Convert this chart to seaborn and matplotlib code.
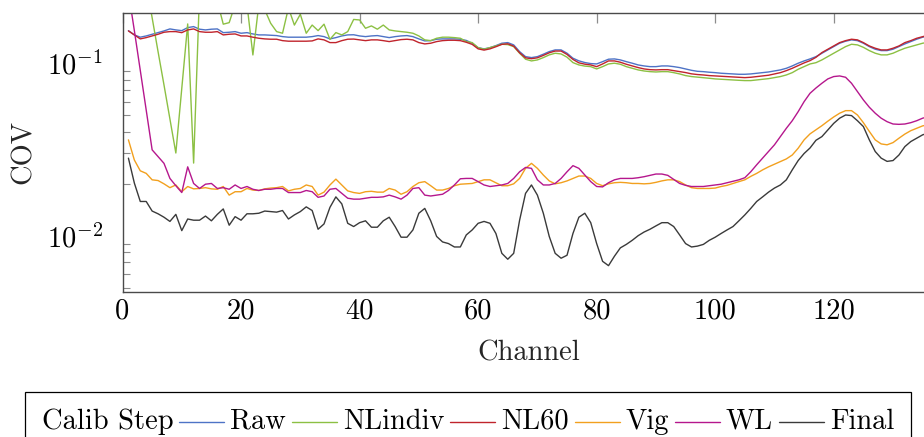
import numpy as np
import pandas as pd
import matplotlib
matplotlib.use("Agg")
import matplotlib.pyplot as plt
import seaborn as sns
from matplotlib.ticker import FixedLocator, FuncFormatter, LogLocator, NullFormatter
from matplotlib.lines import Line2D
from matplotlib.offsetbox import TextArea, DrawingArea, HPacker, AnchoredOffsetbox

# ---------------- data ----------------
channels = list(range(1, 137))

raw = [0.155, 0.1464, 0.142, 0.1444, 0.1477, 0.1509, 0.1544, 0.1586, 0.1565, 0.155,
       0.1614, 0.1636, 0.158, 0.1565, 0.158, 0.1586, 0.1509, 0.1517, 0.153,
       0.1497, 0.1509, 0.1483, 0.1464, 0.1464, 0.1458, 0.1451, 0.1431, 0.142, 0.142,
       0.142, 0.142, 0.1431, 0.1451, 0.1431, 0.1388, 0.1412, 0.1444, 0.1464, 0.1467,
       0.1444, 0.1431, 0.1444, 0.1451, 0.1431, 0.1412, 0.1431, 0.1444, 0.1451, 0.1431,
       0.1388, 0.1351, 0.1356, 0.1382, 0.1388, 0.1388, 0.1388, 0.1382, 0.136,
       0.131, 0.1235, 0.1214, 0.1235, 0.1269, 0.131, 0.1321, 0.1281, 0.1171, 0.1095,
       0.1081, 0.1095, 0.1131, 0.1171, 0.1198, 0.1198, 0.1146, 0.1072, 0.1035, 0.1012,
       0.0998, 0.0993, 0.1024, 0.1058, 0.1062, 0.1048, 0.1024, 0.1003, 0.098, 0.0967,
       0.0958, 0.0958, 0.0967, 0.0967, 0.0958, 0.0946, 0.0929, 0.0912, 0.0900,
       0.0896, 0.0889, 0.0884, 0.0877, 0.0873, 0.0869, 0.0865, 0.0865, 0.0869, 0.0877,
       0.0884, 0.0892, 0.0904, 0.0917, 0.0937, 0.0967, 0.1003, 0.1034, 0.1062, 0.1095,
       0.1146, 0.1198, 0.1252, 0.131, 0.1346, 0.137, 0.1356, 0.131, 0.1252, 0.1209,
       0.1187, 0.1187, 0.1209, 0.1252, 0.1298, 0.1339, 0.1382, 0.142, 0.1444]

nlindiv = [0.45, 0.40, 0.34, 0.29,
           0.184, 0.117, 0.075, 0.0476, 0.0302, 0.0716, 0.1695, 0.0264,
           0.26, 0.25, 0.24, 0.23, 0.169, 0.1725, 0.22, 0.23, 0.22, 0.112, 0.22,
           0.205, 0.171, 0.153, 0.1497, 0.21, 0.167, 0.193, 0.1497, 0.167, 0.155,
           0.169, 0.138, 0.151, 0.1464, 0.153, 0.18,
           0.1788, 0.160, 0.1651, 0.158, 0.167, 0.1565, 0.1544, 0.153, 0.1517, 0.1497,
           0.1444, 0.137, 0.1356, 0.140, 0.142, 0.142, 0.1412, 0.140, 0.1339,
           0.1321, 0.1235, 0.1209, 0.1235, 0.1263, 0.1292, 0.1286, 0.1252, 0.1146, 0.1058,
           0.1034, 0.1048, 0.1081, 0.1121, 0.1146, 0.1135, 0.1087, 0.1011, 0.098, 0.0965,
           0.0958, 0.0929, 0.0958, 0.0993, 0.1003, 0.0989, 0.0958, 0.0937, 0.0917, 0.0904,
           0.0896, 0.0892, 0.0896, 0.0896, 0.0884, 0.0869, 0.085, 0.0839, 0.0833,
           0.0827, 0.082, 0.0813, 0.0809, 0.0805, 0.0802, 0.0798, 0.0795, 0.0795, 0.0802,
           0.0809, 0.0816, 0.0827, 0.0839, 0.0857, 0.0884, 0.0925, 0.0958, 0.0993, 0.101,
           0.1048, 0.1095, 0.1146, 0.1198, 0.1252, 0.1292, 0.1281, 0.124, 0.1187, 0.1146,
           0.1121, 0.1121, 0.1146, 0.1187, 0.1225, 0.1252, 0.1281, 0.131, 0.1327]

nl60 = [0.1544, 0.1464, 0.1388, 0.1412, 0.1444, 0.1477, 0.1517, 0.153, 0.153, 0.1509,
        0.1565, 0.1586, 0.153, 0.1517, 0.1517, 0.153, 0.1464, 0.1477, 0.1483,
        0.1444, 0.1444, 0.142, 0.140, 0.1388, 0.1382, 0.1382, 0.1356, 0.1346, 0.1346,
        0.1346, 0.1346, 0.1351, 0.1388, 0.137, 0.1321, 0.1321, 0.1356, 0.1382, 0.1385,
        0.137, 0.1356, 0.137, 0.137, 0.1356, 0.1339, 0.1356, 0.1375, 0.1382, 0.137,
        0.1321, 0.1298, 0.131, 0.1339, 0.1356, 0.1363, 0.1363, 0.1356, 0.1327,
        0.129, 0.1215, 0.1195, 0.1215, 0.125, 0.129, 0.130, 0.126, 0.1153, 0.1078,
        0.1065, 0.1078, 0.1113, 0.1153, 0.118, 0.118, 0.1128, 0.1055, 0.1008, 0.099,
        0.098, 0.0958, 0.0993, 0.1034, 0.1034, 0.1016, 0.0989, 0.0967, 0.0946, 0.0929,
        0.092, 0.0917, 0.092, 0.092, 0.0908, 0.0896, 0.0885, 0.0870, 0.0862,
        0.0857, 0.085, 0.0846, 0.0843, 0.0839, 0.0835, 0.0831, 0.0827, 0.0831, 0.0839,
        0.0846, 0.0854, 0.0869, 0.0884, 0.0908, 0.0937, 0.0971, 0.1007, 0.1038, 0.1085,
        0.1156, 0.1209, 0.1263, 0.1321, 0.1356, 0.1382, 0.137, 0.1321, 0.1263, 0.1225,
        0.1198, 0.1198, 0.1225, 0.1263, 0.1321, 0.1356, 0.140, 0.1431, 0.1458]

vig = [0.0360, 0.0275, 0.0238, 0.0230, 0.0211, 0.0209, 0.0200, 0.0190, 0.0197, 0.0180,
       0.0193, 0.0187, 0.0188, 0.0190, 0.0187, 0.0186, 0.0193, 0.0172, 0.0180,
       0.0180, 0.0188, 0.0184, 0.0183, 0.0187, 0.0189, 0.0190, 0.0193, 0.0182, 0.0186,
       0.0188, 0.0197, 0.0193, 0.0172, 0.0179, 0.0197, 0.0213, 0.0197, 0.0182, 0.0178,
       0.0176, 0.0180, 0.0181, 0.0179, 0.0179, 0.0188, 0.0184, 0.0174, 0.0180, 0.0193,
       0.0203, 0.0206, 0.0195, 0.0184, 0.0184, 0.0188, 0.0195, 0.0199, 0.0200,
       0.0201, 0.0206, 0.0211, 0.0211, 0.0203, 0.0195, 0.0195, 0.0200, 0.0215, 0.0246,
       0.0263, 0.0246, 0.0225, 0.0208, 0.0200, 0.0203, 0.0208, 0.0215, 0.0222, 0.0222,
       0.0215, 0.0201, 0.0195, 0.0200, 0.0203, 0.0204, 0.0203, 0.0201, 0.0201, 0.0200,
       0.0201, 0.0204, 0.0208, 0.0211, 0.0211, 0.0206, 0.0197, 0.0190, 0.0188,
       0.0188, 0.0188, 0.0189, 0.0193, 0.0196, 0.0201, 0.0206, 0.0211, 0.0221, 0.0230,
       0.0241, 0.0251, 0.0260, 0.0269, 0.0279, 0.0294, 0.0322, 0.0360, 0.0390, 0.0412,
       0.0435, 0.0462, 0.0489, 0.0514, 0.0532, 0.0532, 0.0502, 0.0453, 0.0403, 0.0360,
       0.0341, 0.0337, 0.0347, 0.0368, 0.0389, 0.0407, 0.0420, 0.0434, 0.0441]

wl = [0.26, 0.155, 0.0912, 0.0535, 0.0315, 0.0288, 0.0263, 0.0215, 0.0195, 0.0178,
      0.0251, 0.0201, 0.0188, 0.0199, 0.0201, 0.0188, 0.0190, 0.0186, 0.0197,
      0.0188, 0.0193, 0.0186, 0.0183, 0.0186, 0.0186, 0.0188, 0.0188, 0.0178, 0.0178,
      0.0178, 0.0183, 0.0180, 0.0167, 0.0170, 0.0186, 0.0188, 0.0176, 0.0165, 0.0163,
      0.0163, 0.0165, 0.0167, 0.0167, 0.0168, 0.0172, 0.0168, 0.0163, 0.0172, 0.0188,
      0.0190, 0.0172, 0.0170, 0.0172, 0.0174, 0.0183, 0.0197, 0.0214, 0.0215,
      0.0215, 0.0206, 0.0197, 0.0193, 0.0195, 0.0197, 0.0201, 0.0215, 0.0235, 0.0249,
      0.0246, 0.0211, 0.0197, 0.0197, 0.0201, 0.0215, 0.0235, 0.0255, 0.0246, 0.0225,
      0.0206, 0.0193, 0.0192, 0.0203, 0.0211, 0.0215, 0.0215, 0.0215, 0.0217, 0.0220,
      0.0224, 0.0228, 0.0228, 0.0224, 0.0212, 0.0201, 0.0196, 0.0193, 0.0193,
      0.0193, 0.0195, 0.0197, 0.0199, 0.0203, 0.0207, 0.0211, 0.0217, 0.0235, 0.0258,
      0.0282, 0.0308, 0.0337, 0.0376, 0.0420, 0.0465, 0.0525, 0.0600, 0.0671, 0.0720,
      0.0767, 0.0813, 0.0839, 0.0846, 0.0831, 0.0767, 0.0686, 0.0614, 0.0557, 0.0514,
      0.0481, 0.0459, 0.0445, 0.0443, 0.0445, 0.0453, 0.0465, 0.0481, 0.0491]

final = [0.0282, 0.0202, 0.0158, 0.0158, 0.0139, 0.0134, 0.0128, 0.0121, 0.0133, 0.0107,
         0.0125, 0.0123, 0.0123, 0.0130, 0.0122, 0.0133, 0.0143, 0.0115, 0.0129,
         0.0123, 0.0134, 0.0134, 0.0135, 0.0139, 0.0138, 0.0137, 0.0140, 0.0125, 0.0132,
         0.0138, 0.0147, 0.0140, 0.0109, 0.0117, 0.0146, 0.0168, 0.0153, 0.0118, 0.0113,
         0.0119, 0.0122, 0.0112, 0.0112, 0.0122, 0.0128, 0.0113, 0.0098, 0.0098, 0.0108,
         0.0135, 0.0144, 0.0122, 0.0099, 0.0092, 0.0090, 0.0086, 0.0086, 0.0101,
         0.0108, 0.0118, 0.0121, 0.0118, 0.0103, 0.0079, 0.0073, 0.0079, 0.0123, 0.0176,
         0.0197, 0.0172, 0.0135, 0.0099, 0.0079, 0.0074, 0.0077, 0.0103, 0.0128, 0.0135,
         0.0119, 0.0090, 0.0071, 0.0067, 0.0076, 0.0085, 0.0089, 0.0094, 0.0100, 0.0105,
         0.0109, 0.0114, 0.0119, 0.0119, 0.0113, 0.0101, 0.0090, 0.0086, 0.0087,
         0.0089, 0.0094, 0.0098, 0.0103, 0.0108, 0.0113, 0.0122, 0.0132, 0.0144, 0.0158,
         0.0168, 0.0179, 0.0189, 0.0197, 0.0211, 0.0241, 0.0273, 0.0300, 0.0323, 0.0358,
         0.0376, 0.0411, 0.0449, 0.0481, 0.0502, 0.0498, 0.0465, 0.0430, 0.0360, 0.0308,
         0.0282, 0.0270, 0.0273, 0.0294, 0.0329, 0.0352, 0.0368, 0.0385, 0.0395]

steps = ["Raw", "NLindiv", "NL60", "Vig", "WL", "Final"]
series = [raw, nlindiv, nl60, vig, wl, final]
colors = ["#4e73c6", "#8cc043", "#c0242c", "#f2a01e", "#b5178d", "#3a3a3a"]

xticks = [0, 20, 40, 60, 80, 100, 120, 140]
yticks = [1e-2, 1e-1]

# ---------------- styling ----------------
sns.set_theme(style="white")
plt.rcParams["font.family"] = ["cmr10", "DejaVu Serif"]
plt.rcParams["mathtext.fontset"] = "cm"
plt.rcParams["axes.formatter.use_mathtext"] = True
FS = 20.5

df = pd.DataFrame({
    "Channel": np.tile(channels, len(steps)),
    "COV": np.concatenate([np.asarray(s, dtype=float) for s in series]),
    "Calib Step": np.repeat(steps, len(channels)),
})

fig = plt.figure(figsize=(9.24, 4.37), dpi=100)
ax = fig.add_axes([122.5 / 924, 1 - 291.7 / 437, (934.5 - 122.5) / 924, (291.7 - 12.7) / 437])

sns.lineplot(data=df, x="Channel", y="COV", hue="Calib Step", hue_order=steps,
             palette=colors, estimator=None, linewidth=1.0, legend=False, ax=ax)

ax.set_yscale("log")
ax.set_xlim(0, 137)
ax.set_ylim(0.00473, 0.197)

ax.xaxis.set_major_locator(FixedLocator(xticks))
ax.xaxis.set_major_formatter(FuncFormatter(lambda v, p: f"{int(v)}"))
ax.yaxis.set_major_locator(FixedLocator(yticks))
ax.yaxis.set_major_formatter(FuncFormatter(lambda v, p: r"$10^{%d}$" % int(round(np.log10(v)))))
ax.yaxis.set_minor_locator(LogLocator(base=10, subs=np.arange(2, 10), numticks=20))
ax.yaxis.set_minor_formatter(NullFormatter())

ax.tick_params(axis="both", which="major", direction="in", length=7.2, width=0.9,
               color="#8c8c8c", labelcolor="black", labelsize=FS, top=True, right=True)
ax.tick_params(axis="y", which="minor", direction="in", length=5, width=0.8,
               color="#8c8c8c", left=True, right=True)
ax.tick_params(axis="x", which="major", pad=4.5)
ax.tick_params(axis="y", which="major", pad=14)

for sp in ax.spines.values():
    sp.set_color("#4a4a4a")
    sp.set_linewidth(1.0)

ax.set_xlabel("Channel", fontsize=FS)
ax.set_ylabel("COV", fontsize=FS)
ax.xaxis.set_label_coords(0.5, -0.175)
ax.yaxis.set_label_coords(-0.105, 0.5)

# ---------------- legend (inline title like pgfplots) ----------------
items = [TextArea("Calib Step", textprops=dict(size=FS, color="black"))]
HL = 32.4
for name, col in zip(steps, colors):
    da = DrawingArea(HL, 10, 0, 0)
    da.add_artist(Line2D([0, HL], [5, 5], color=col, lw=1.0))
    items += [da, TextArea(name, textprops=dict(size=FS, color="black"))]
pack = HPacker(children=items, align="center", pad=0, sep=4.3)
leg = AnchoredOffsetbox(loc="upper left", child=pack, pad=0.58, borderpad=0,
                        frameon=True, prop=dict(size=FS),
                        bbox_to_anchor=(25 / 924, 1 - 392 / 437),
                        bbox_transform=fig.transFigure)
leg.patch.set_boxstyle("square", pad=0)
leg.patch.set_edgecolor("black")
leg.patch.set_facecolor("white")
leg.patch.set_linewidth(0.9)
fig.add_artist(leg)

fig.savefig("out.png", dpi=100)
